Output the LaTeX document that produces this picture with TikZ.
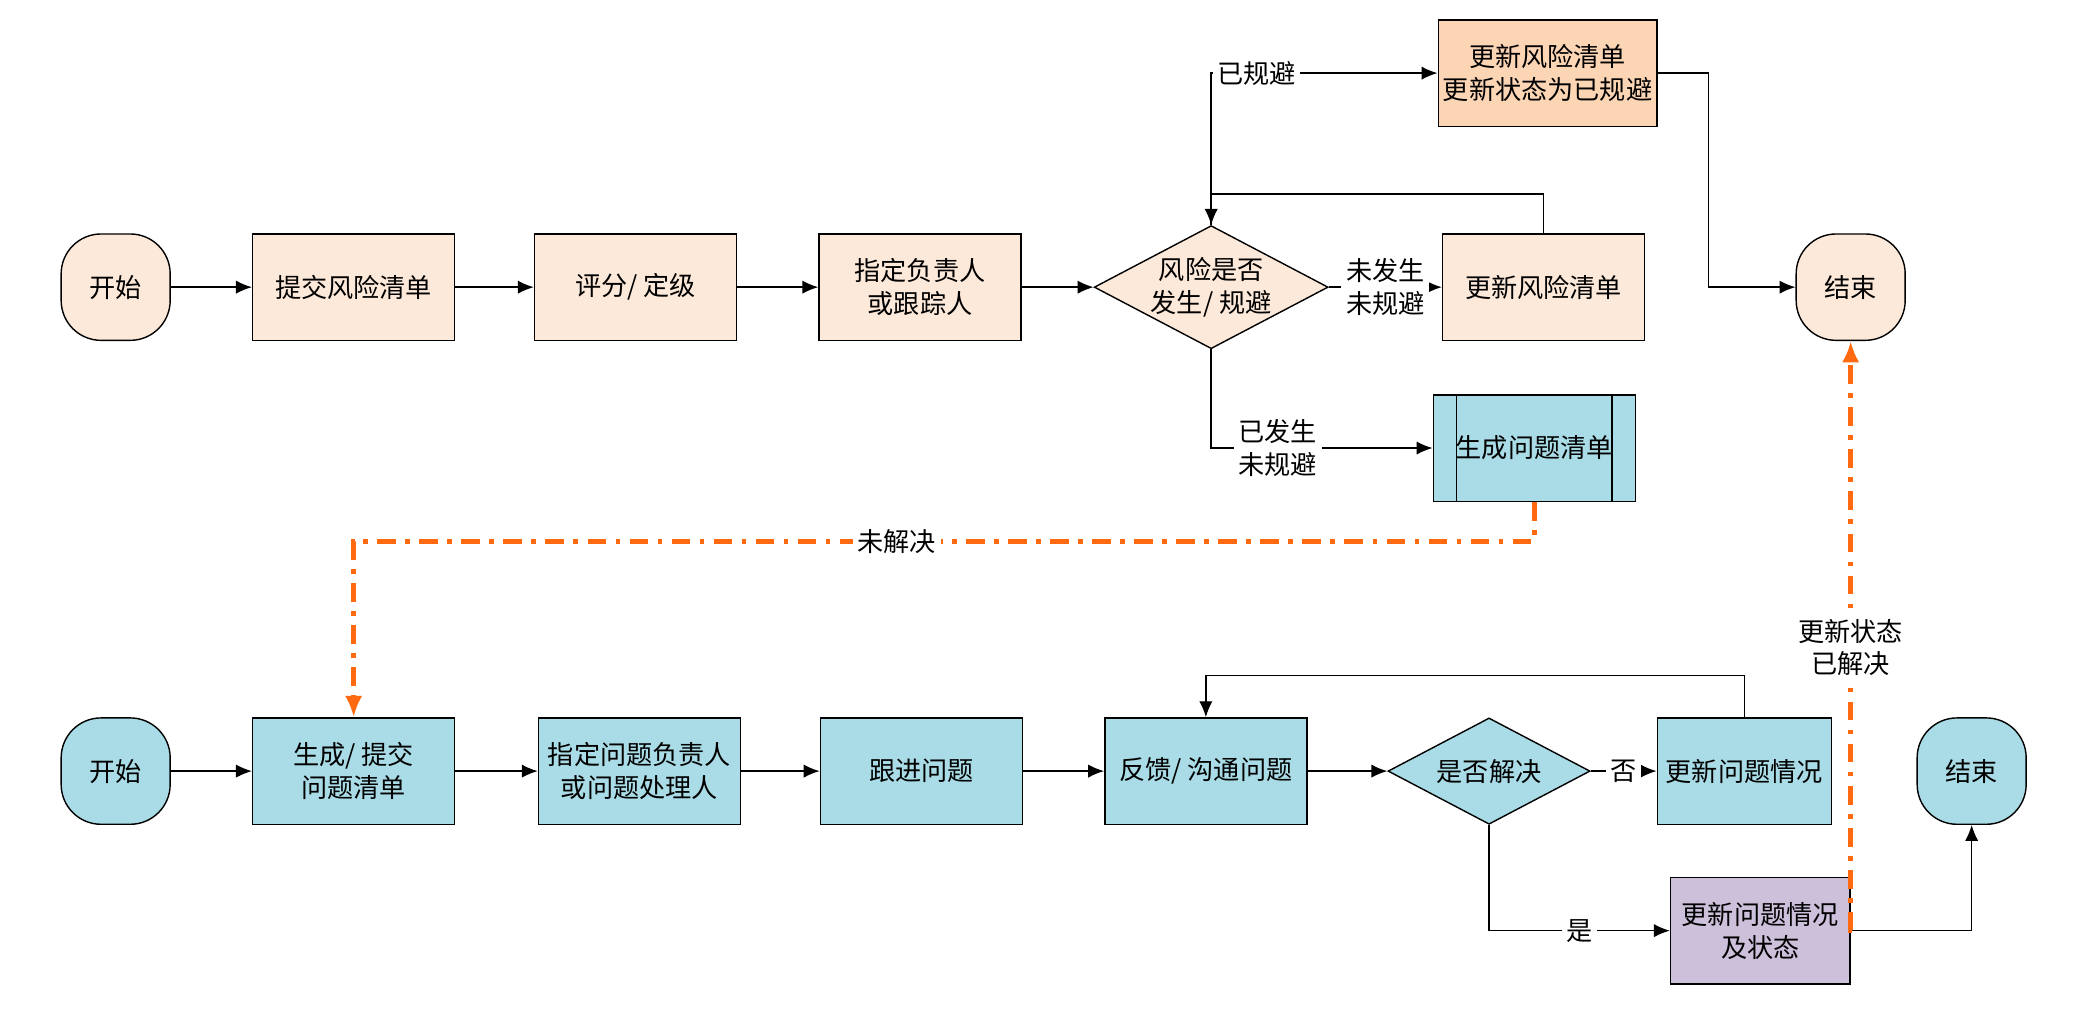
\documentclass[tikz,border=0pt]{standalone}
\usepackage{fontspec}
\setmainfont{Noto Sans CJK SC}
\usetikzlibrary{calc,shapes.geometric,arrows.meta}
\definecolor{peach}{HTML}{FDE9D9}
\definecolor{peachdark}{HTML}{FCD5B5}
\definecolor{aqua}{HTML}{A9DCE6}
\definecolor{lilac}{HTML}{CCC0DA}
\definecolor{flame}{HTML}{FF6A10}
\tikzstyle{box}=[draw, line width=0.3pt, minimum width=1.52cm, minimum height=0.8cm, align=center, inner sep=1pt, font=\fontsize{5.6}{7}\selectfont]
\tikzstyle{term}=[box, minimum width=0.82cm, rounded corners=0.3cm]
\tikzstyle{choice}=[box, diamond, aspect=1.9, minimum width=1.52cm, minimum height=0.8cm, inner sep=0pt]
\tikzstyle{flow}=[draw, line width=0.3pt, -{Latex[length=1.2mm,width=1mm]}]
\tikzstyle{hot}=[draw=flame, line width=1.1pt, dash pattern=on 4pt off 2pt on 1pt off 2pt, -{Latex[length=1.6mm,width=1.3mm]}]
\tikzstyle{lbl}=[fill=white, inner sep=1pt, align=center, font=\fontsize{5.6}{7}\selectfont]

\begin{document}
\begin{tikzpicture}
  \useasboundingbox (0,0) rectangle (15.6,-7.6);

  % The risk part
  \foreach \pos/\name/\txt in {{(0.87,-2.16)/sa/开始}, {(13.92,-2.16)/ea/结束}}
    \node[term, fill=peach] (\name) at \pos {\txt};
  \foreach \pos/\name/\txt in {{(2.66,-2.16)/ra/提交风险清单}, {(4.78,-2.16)/rb/{评分/ 定级}},
      {(6.92,-2.16)/rc/指定负责人\\或跟踪人}, {(11.61,-2.16)/rd/更新风险清单}}
    \node[box, fill=peach] (\name) at \pos {\txt};
  \node[box, fill=peachdark] (re) at (11.64,-0.55) {更新风险清单\\更新状态为已规避};
  \node[choice, fill=peach] (da) at (9.11,-2.16) {风险是否\\发生/ 规避};
  \node[box, fill=aqua] (rf) at (11.54,-3.37) {生成问题清单};
  \draw[line width=0.3pt] ($(rf.north west)+(0.18,0)$) -- ($(rf.south west)+(0.18,0)$)
    ($(rf.north east)-(0.18,0)$) -- ($(rf.south east)-(0.18,0)$);

  % The issue part
  \foreach \pos/\name/\txt in {{(0.87,-5.80)/sb/开始}, {(14.83,-5.80)/eb/结束}}
    \node[term, fill=aqua] (\name) at \pos {\txt};
  \foreach \pos/\name/\txt in {{(2.66,-5.80)/ia/{生成/ 提交\\问题清单}}, {(4.81,-5.80)/ib/指定问题负责人\\或问题处理人},
      {(6.93,-5.80)/ic/跟进问题}, {(9.07,-5.80)/id/{反馈/ 沟通问题}}}
    \node[box, fill=aqua] (\name) at \pos {\txt};
  \node[box, fill=aqua, minimum width=1.31cm] (ie) at (13.12,-5.80) {更新问题情况};
  \node[box, fill=lilac, minimum width=1.35cm] (ig) at (13.24,-7.00) {更新问题情况\\及状态};
  \node[choice, fill=aqua] (db) at (11.20,-5.80) {是否解决};

  \foreach \source/\sink in {sa/ra, ra/rb, rb/rc, rc/da, sb/ia, ia/ib, ib/ic, ic/id, id/db}
    \path[flow] (\source) -- (\sink);

  \path[flow] (da) -- node[lbl] {未发生\\未规避} (rd);
  \path[flow] (da.south) |- node[lbl, pos=0.65] {已发生\\未规避} (rf);
  \path[flow] (da.north) |- node[lbl, pos=0.6] {已规避} (re);
  \path[flow] (rd.north) |- (9.11,-1.46) -- (da.north);
  \path[flow] (re.east) -| (12.85,-2.16) -- (ea);
  \path[flow] (db) -- node[lbl] {否} (ie);
  \path[flow] (ie.north) |- (9.07,-5.08) -- (id.north);
  \path[flow] (db.south) |- node[lbl, pos=0.75] {是} (ig);
  \path[flow] (ig.east) -| (eb.south);

  \path[hot] (rf.south) |- node[lbl, pos=0.77] {未解决} (2.66,-4.07) -- (ia.north);
  \path[hot] (ig.east) -| node[lbl, pos=0.74] {更新状态\\已解决} (ea.south);
\end{tikzpicture}
\end{document}
